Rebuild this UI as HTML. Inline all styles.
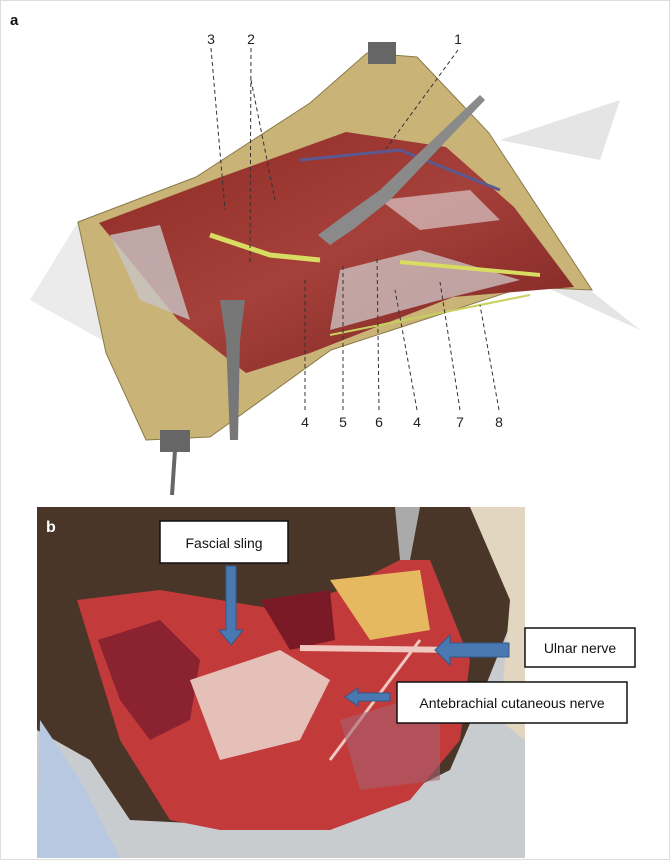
<!DOCTYPE html>
<html><head><meta charset="utf-8"><style>
html,body{margin:0;padding:0;background:#fff}
svg{display:block}
text{font-family:"Liberation Sans",sans-serif}
</style></head><body>
<svg width="670" height="860" viewBox="0 0 670 860" xmlns="http://www.w3.org/2000/svg">
<defs>
<linearGradient id="mus" x1="0" y1="0" x2="1" y2="1">
<stop offset="0" stop-color="#8e2a25"/><stop offset="0.5" stop-color="#a5403a"/><stop offset="1" stop-color="#7a2220"/></linearGradient>
<radialGradient id="sk" cx="0.5" cy="0.5" r="0.7"><stop offset="0" stop-color="#5a4030"/><stop offset="1" stop-color="#3a2a20"/></radialGradient>
</defs>
<rect x="0.5" y="0.5" width="669" height="859" fill="#fff" stroke="#ddd"/>
<text x="10" y="25" font-size="15" font-weight="bold" fill="#111">a</text>
<!-- drapes -->
<path d="M78 222 L30 300 L120 350 Z" fill="#ddd" opacity="0.6"/>
<path d="M500 140 L620 100 L600 160 Z" fill="#ccc" opacity="0.5"/>
<path d="M530 280 L640 330 L590 290 Z" fill="#ccc" opacity="0.5"/>
<!-- skin -->
<polygon points="78,222 196,177 310,103 367,53 417,57 489,133 592,290 524,287 331,350 210,437 146,440 106,353" fill="#c9b377" stroke="#8a7a4a"/>
<polygon points="99,223 221,177 346,132 446,147 514,207 574,287 453,297 310,353 246,373 178,320 124,253" fill="url(#mus)"/>
<path d="M110 235 L160 225 L190 320 L140 300 Z" fill="#c8c4c4" opacity="0.8"/>
<path d="M340 270 L420 250 L520 280 L440 300 L330 330 Z" fill="#cfc8c8" opacity="0.75"/>
<path d="M380 200 L470 190 L500 220 L420 230 Z" fill="#d8c8c8" opacity="0.7"/>
<path d="M210 235 L270 255 L320 260" stroke="#d8dc60" stroke-width="5" fill="none"/>
<path d="M400 262 L540 275" stroke="#d8dc60" stroke-width="4" fill="none"/>
<path d="M330 335 L530 295" stroke="#c8d060" stroke-width="2" fill="none"/>
<path d="M300 160 L400 150 L500 190" stroke="#5a5a90" stroke-width="3" fill="none"/>
<!-- retractor -->
<path d="M480 95 L380 190 L345 215 L318 235 L330 245 L355 228 L390 200 L485 100 Z" fill="#8a8a8a"/>
<path d="M220 300 L245 300 L240 340 L238 440 L230 440 L226 340 Z" fill="#777"/>
<rect x="368" y="42" width="28" height="22" fill="#666"/>
<rect x="160" y="430" width="30" height="22" fill="#666"/>
<line x1="175" y1="450" x2="172" y2="495" stroke="#666" stroke-width="4"/>
<!-- leaders -->
<g stroke="#333" stroke-width="1" stroke-dasharray="4,3" fill="none">
<line x1="211" y1="48" x2="225" y2="210"/>
<line x1="251" y1="48" x2="250" y2="265"/>
<line x1="251" y1="80" x2="275" y2="200"/>
<line x1="458" y1="50" x2="385" y2="150"/>
<line x1="305" y1="410" x2="305" y2="280"/>
<line x1="343" y1="410" x2="343" y2="265"/>
<line x1="379" y1="410" x2="377" y2="257"/>
<line x1="417" y1="410" x2="395" y2="290"/>
<line x1="460" y1="410" x2="440" y2="282"/>
<line x1="499" y1="410" x2="480" y2="305"/>
</g>
<g font-size="14" fill="#222" text-anchor="middle">
<text x="211" y="44">3</text><text x="251" y="44">2</text><text x="458" y="44">1</text>
<text x="305" y="427">4</text><text x="343" y="427">5</text><text x="379" y="427">6</text><text x="417" y="427">4</text><text x="460" y="427">7</text><text x="499" y="427">8</text>
</g>
<!-- photo b -->
<rect x="37" y="507" width="488" height="351" fill="#4a3628"/>
<path d="M525 507 L525 858 L37 858 L37 730 L90 760 L130 820 L330 830 L450 770 L480 700 L520 600 Z" fill="#c8cccf"/>
<path d="M470 507 L525 507 L525 740 L500 720 L510 600 Z" fill="#e2d6c0"/>
<path d="M40 720 L37 858 L120 858 L80 780 Z" fill="#b8c8e0"/>
<path d="M77 600 L160 590 L280 610 L340 590 L400 560 L430 560 L470 660 L460 740 L410 800 L330 830 L220 830 L170 820 L120 740 Z" fill="#c33a3a"/>
<path d="M98 640 L160 620 L200 660 L190 720 L150 740 L120 700 Z" fill="#8a2230"/>
<path d="M260 600 L330 590 L335 640 L290 650 Z" fill="#7a1a26"/>
<path d="M330 580 L420 570 L430 630 L370 640 Z" fill="#e6b860"/>
<path d="M190 680 L280 650 L330 680 L300 740 L220 760 Z" fill="#e4c0b8"/>
<path d="M300 648 L460 650" stroke="#f0c8c0" stroke-width="6"/>
<path d="M330 760 L420 640" stroke="#f0c8c0" stroke-width="3"/>
<path d="M340 720 L440 690 L440 780 L360 790 Z" fill="#a86070" opacity="0.6"/>
<path d="M395 507 L420 507 L410 560 L400 560 Z" fill="#aaa"/>
<text x="46" y="532" font-size="16" font-weight="bold" fill="#fff">b</text>
<!-- arrows -->
<g fill="#4a78b0" stroke="#2e5a90" stroke-width="1">
<polygon points="226,566 236,566 236,630 243,630 231,645 219,630 226,630"/>
<polygon points="509,643 509,657 450,657 450,665 435,650 450,635 450,643"/>
<polygon points="390,693 390,701 358,701 358,706 345,697 358,688 358,693"/>
</g>
<g fill="#fff" stroke="#111" stroke-width="1.5">
<rect x="160" y="521" width="128" height="42"/>
<rect x="525" y="628" width="110" height="39"/>
<rect x="397" y="682" width="230" height="41"/>
</g>
<g font-size="14" fill="#111" text-anchor="middle">
<text x="224" y="548">Fascial sling</text>
<text x="580" y="653">Ulnar nerve</text>
<text x="512" y="708">Antebrachial cutaneous nerve</text>
</g>
</svg>
</body></html>
